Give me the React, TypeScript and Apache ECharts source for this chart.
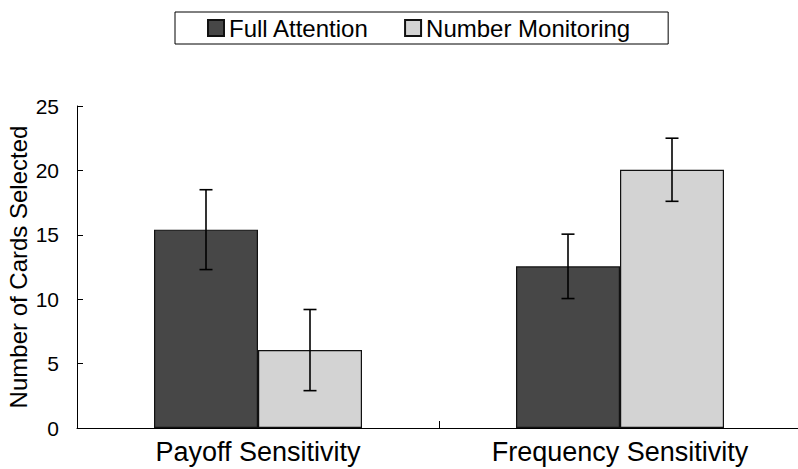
import React, { useEffect, useRef } from "react";
import * as echarts from "echarts";

const categories = ["Payoff Sensitivity", "Frequency Sensitivity"];
const seriesNames = ["Full Attention", "Number Monitoring"];
const fullMeans = [15.4, 12.55];
const numberMeans = [6.05, 20.05];
const fullErr = [3.1, 2.5];
const numberErr = [3.15, 2.45];
const yTicks = [0, 5, 10, 15, 20, 25];

const BAR_W = 104;
const FONT = "Liberation Sans, Arial, sans-serif";

function errorSeries(means: number[], errs: number[], offset: number) {
  return {
    type: "custom",
    silent: true,
    z: 5,
    data: means.map((m, i) => [i, m - errs[i], m + errs[i]]),
    encode: { x: 0, y: [1, 2] },
    renderItem: (_params: any, api: any) => {
      const i = api.value(0);
      const lo = api.coord([i, api.value(1)]);
      const hi = api.coord([i, api.value(2)]);
      const cx = lo[0] + offset;
      const cap = 6.5;
      const st = { stroke: "#000", lineWidth: 1.6 };
      return {
        type: "group",
        children: [
          { type: "line", shape: { x1: cx, y1: lo[1], x2: cx, y2: hi[1] }, style: st },
          { type: "line", shape: { x1: cx - cap, y1: lo[1], x2: cx + cap, y2: lo[1] }, style: st },
          { type: "line", shape: { x1: cx - cap, y1: hi[1], x2: cx + cap, y2: hi[1] }, style: st },
        ],
      };
    },
  };
}

export default function App() {
  const ref = useRef<HTMLDivElement>(null);
  useEffect(() => {
    if (!ref.current) return;
    const chart = echarts.init(ref.current, undefined, { renderer: "svg" });
    chart.setOption({
      animation: false,
      backgroundColor: "#fff",
      textStyle: { fontFamily: FONT },
      legend: {
        data: seriesNames,
        left: 175,
        top: 12,
        borderColor: "#000",
        borderWidth: 1,
        padding: [4, 38, 4, 32],
        itemWidth: 16,
        itemHeight: 16,
        itemGap: 35,
        icon: "rect",
        textStyle: { fontSize: 24, color: "#000", fontFamily: FONT, lineHeight: 22 },
      },
      grid: {
        left: 77,
        top: 106,
        width: 724,
        height: 322,
        containLabel: false,
        outerBoundsMode: "none",
      },
      xAxis: {
        type: "category",
        data: categories,
        axisLine: { lineStyle: { color: "#000", width: 1 } },
        axisTick: { show: true, inside: true, length: 7, lineStyle: { color: "#000" } },
        axisLabel: { fontSize: 27, color: "#000", margin: 10, fontFamily: FONT },
      },
      yAxis: {
        type: "value",
        min: 0,
        max: 25,
        interval: 5,
        name: "Number of Cards Selected",
        nameLocation: "middle",
        nameGap: 47,
        nameMoveOverlap: false,
        nameTextStyle: { fontSize: 24, color: "#000", fontFamily: FONT, lineHeight: 24 },
        axisLine: { show: true, lineStyle: { color: "#000", width: 1 } },
        axisTick: { show: true, inside: true, length: 6, lineStyle: { color: "#000" } },
        axisLabel: {
          fontSize: 21,
          color: "#000",
          margin: 18,
          fontFamily: FONT,
          formatter: (v: number) => (yTicks.includes(v) ? String(v) : ""),
        },
        splitLine: { show: false },
      },
      series: [
        {
          name: seriesNames[0],
          type: "bar",
          data: fullMeans,
          barWidth: BAR_W,
          barGap: "0%",
          itemStyle: { color: "#474747", borderColor: "#111", borderWidth: 1.2 },
        },
        {
          name: seriesNames[1],
          type: "bar",
          data: numberMeans,
          barWidth: BAR_W,
          barGap: "0%",
          itemStyle: { color: "#d3d3d3", borderColor: "#111", borderWidth: 1.2 },
        },
        errorSeries(fullMeans, fullErr, -BAR_W / 2),
        errorSeries(numberMeans, numberErr, BAR_W / 2),
      ],
    });
    return () => chart.dispose();
  }, []);
  return (
    <div
      ref={ref}
      style={{ position: "absolute", left: 0, top: 0, width: 798, height: 469, background: "#fff" }}
    />
  );
}
